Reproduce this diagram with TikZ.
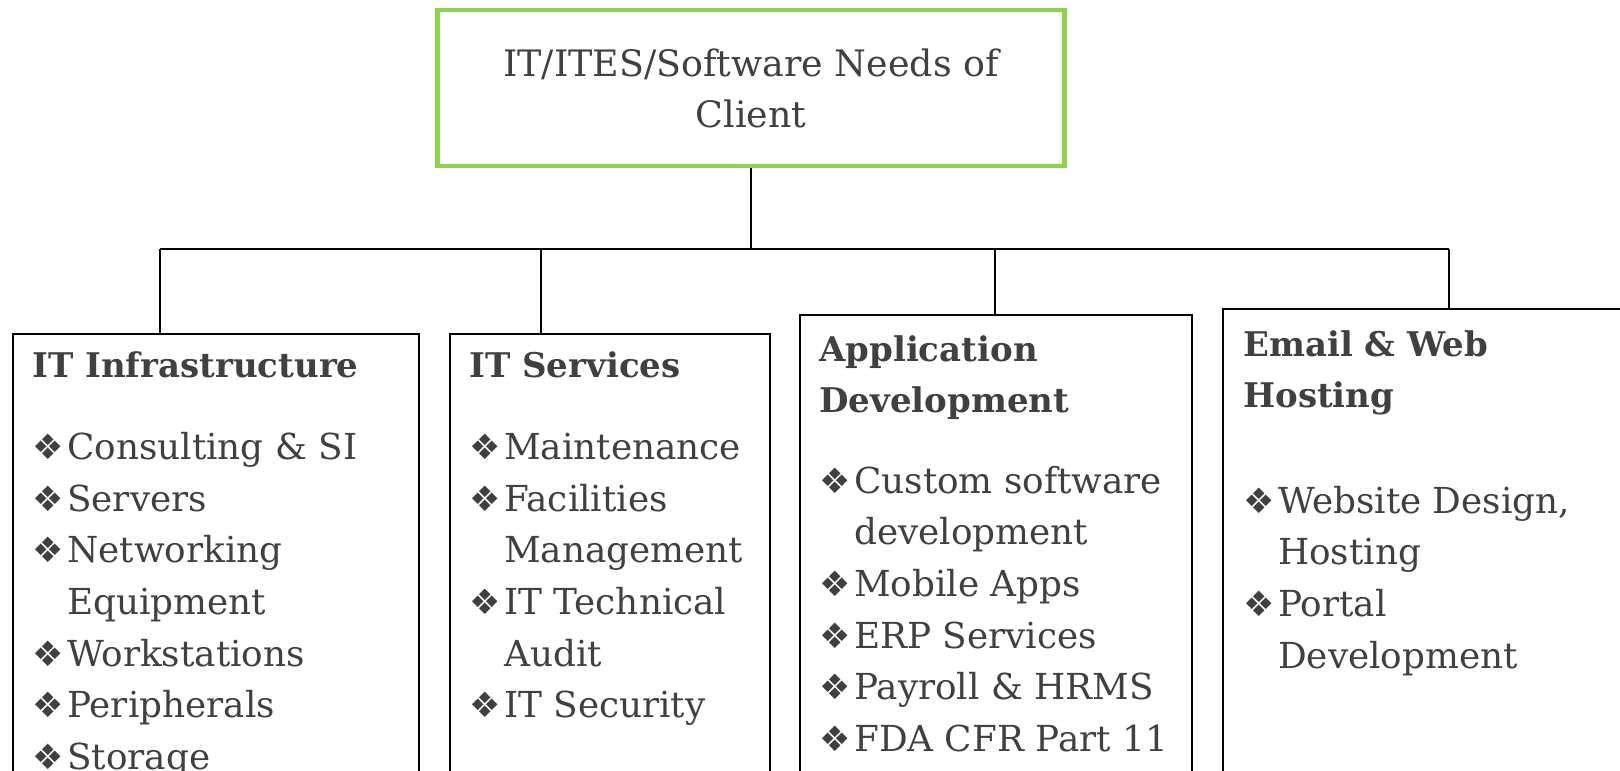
\documentclass[tikz,border=0pt]{standalone}
\usepackage{fontspec}
\setmainfont{DejaVu Serif}
\newfontfamily\dingfont{DejaVu Sans}
\usetikzlibrary{positioning}
\definecolor{needgreen}{HTML}{92D050}
\definecolor{txtgray}{HTML}{404040}
\newcommand{\itm}{\makebox[35pt][l]{\dingfont\fontsize{35}{35}\selectfont ❖}}
\newcommand{\cnt}{\hspace*{35pt}}
\newcommand{\hd}[1]{{\fontsize{34}{51.6}\selectfont\bfseries #1}}

\begin{document}
\begin{tikzpicture}[x=1pt,y=-1pt,
  needbox/.style={draw=needgreen,line width=4.5pt,minimum width=627pt,minimum height=156pt,align=center,text=txtgray,font=\fontsize{36.4}{51}\selectfont},
  svcbox/.style={draw,line width=1.6pt,minimum width=#1,minimum height=600pt,anchor=north west,inner sep=0pt},
  svctext/.style={align=left,inner sep=0pt,text=txtgray,font=\fontsize{35.8}{51.6}\selectfont},
  link/.style={line width=1.6pt}]
\useasboundingbox (0,0) rectangle (1620,771);
\node[needbox] (need) at (751,88) {IT/ITES/Software Needs of\\Client}; %client needs
\node[svcbox=406pt] (infra) at (12,333) {}; %service boxes
\node[svcbox=320pt] (serv) at (449,333) {};
\node[svcbox=392pt] (appdev) at (799,314) {};
\node[svcbox=460pt] (web) at (1222,308) {};
\node[svctext,below right=18pt and 20pt of infra.north west] (infratxt) {\hd{IT Infrastructure}\\[31pt]
  \itm Consulting \& SI\\ \itm Servers\\ \itm Networking\\ \cnt Equipment\\ \itm Workstations\\ \itm Peripherals\\ \itm Storage};
\node[svctext,below right=18pt and 20pt of serv.north west] (servtxt) {\hd{IT Services}\\[31pt]
  \itm Maintenance\\ \itm Facilities\\ \cnt Management\\ \itm IT Technical\\ \cnt Audit\\ \itm IT Security};
\node[svctext,below right=21pt and 20pt of appdev.north west] (appdevtxt) {\hd{Application}\\ \hd{Development}\\[29pt]
  \itm Custom software\\ \cnt development\\ \itm Mobile Apps\\ \itm ERP Services\\ \itm Payroll \& HRMS\\ \itm FDA CFR Part 11};
\node[svctext,below right=22pt and 21pt of web.north west] (webtxt) {\hd{Email \& Web}\\ \hd{Hosting}\\[54pt]
  \itm Website Design,\\ \cnt Hosting\\ \itm Portal\\ \cnt Development};
\coordinate (hub) at (751,249); %connectors
\coordinate (bus1) at (160,249);
\coordinate (bus2) at (541,249);
\coordinate (bus3) at (995,249);
\coordinate (bus4) at (1449,249);
\draw[link] (need.south) -- (hub);
\draw[link] (bus1) -- (bus4);
\draw[link] (bus1) -- (infra.north -| bus1);
\draw[link] (bus2) -- (serv.north -| bus2);
\draw[link] (bus3) -- (appdev.north -| bus3);
\draw[link] (bus4) -- (web.north -| bus4);
\end{tikzpicture}
\end{document}
